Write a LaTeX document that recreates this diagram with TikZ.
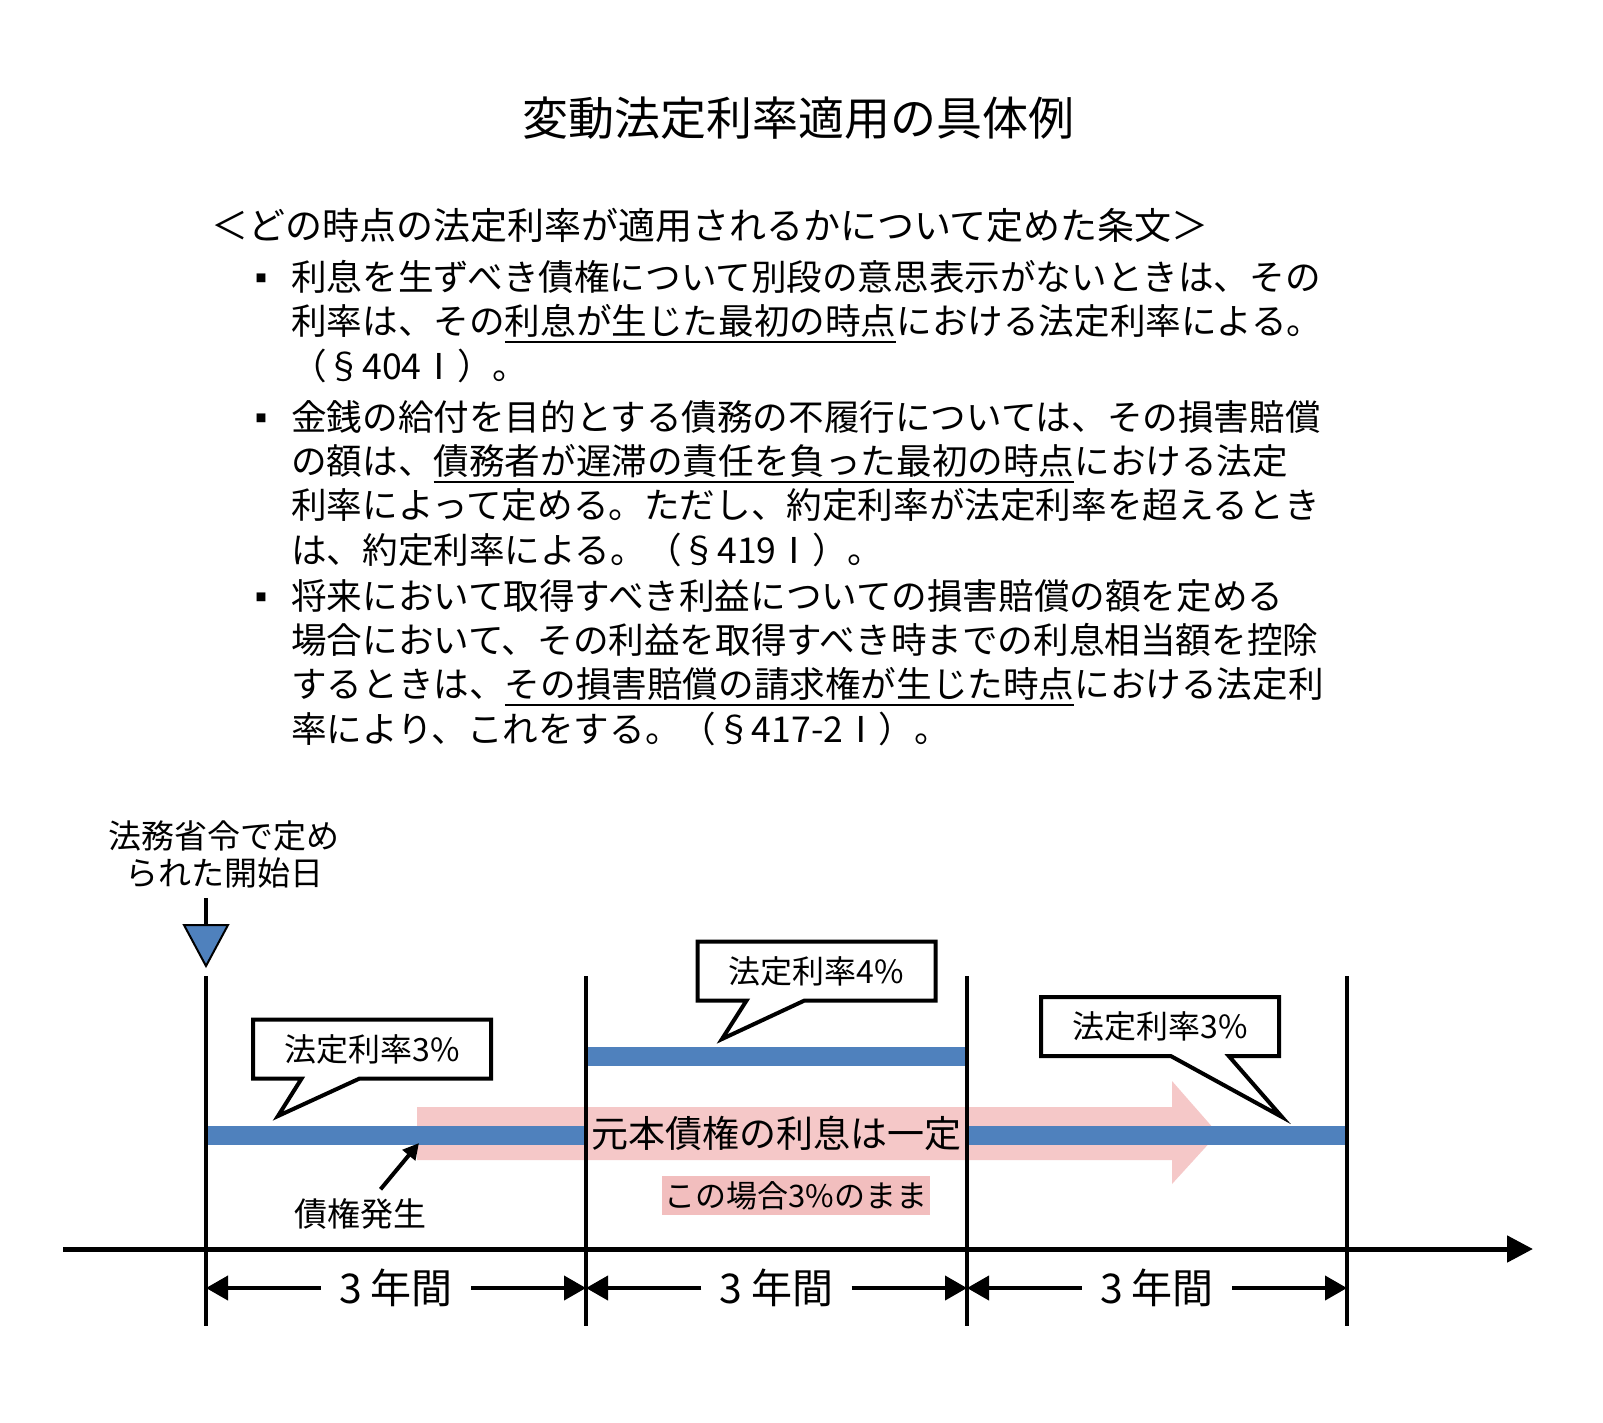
\documentclass[tikz,border=0pt]{standalone}
\usepackage{fontspec}
\setmainfont{Noto Sans CJK JP}
\usetikzlibrary{arrows.meta,positioning,shapes.callouts}
\newcommand{\pxfont}[2]{\fontsize{#1}{#2}\selectfont}
\newsavebox{\undlbox}
\newcommand{\undl}[1]{\sbox{\undlbox}{#1}\rlap{\rule[-8.5pt]{\wd\undlbox}{2.5pt}}\usebox{\undlbox}}
\definecolor{lr-ink}{HTML}{000000}
\definecolor{lr-blue}{HTML}{4F81BD}
\definecolor{lr-pink}{HTML}{F5C8C8}
\definecolor{lr-rose}{HTML}{F2BEBE}

\begin{document}
\begin{tikzpicture}[x=1pt,y=-1pt,
  ratebox/.style={rectangle callout,draw=lr-ink,fill=white,line width=4pt,
    minimum width=238pt,minimum height=59pt,inner sep=0pt,
    callout pointer width=58pt,font=\pxfont{32}{36}},
  vline/.style={lr-ink,line width=4.5pt},
  rateline/.style={lr-blue,line width=19pt},
  spanarrow/.style={lr-ink,line width=4pt,-{Triangle[length=22pt,width=24pt]}},
  yearlabel/.style={font=\pxfont{41}{44},inner xsep=18pt,inner ysep=0pt},
  clause/.style={anchor=north west,align=left,inner sep=0pt,font=\pxfont{35.6}{44.3}},
  bulletmark/.style={font=\pxfont{11}{12},inner sep=0pt}]

\useasboundingbox[fill=white] (0,0) rectangle (1603,1422);

% ============ heading and the three articles ============
\node[font=\pxfont{46}{50}] (title) at (798,118) {変動法定利率適用の具体例};
\node[font=\pxfont{37}{40}] (clauses) at (710,225)
     {＜どの時点の法定利率が適用されるかについて定めた条文＞};

\node[bulletmark] (dot404) at (261,278) {■};
\node[clause] (art404) at (291,260)
     {利息を生ずべき債権について別段の意思表示がないときは、その\\
      利率は、その\undl{利息が生じた最初の時点}における法定利率による。\\
      （§404Ⅰ）。};

\node[bulletmark] (dot419) at (261,418) {■};
\node[clause] (art419) at (291,400)
     {金銭の給付を目的とする債務の不履行については、その損害賠償\\
      の額は、\undl{債務者が遅滞の責任を負った最初の時点}における法定\\
      利率によって定める。ただし、約定利率が法定利率を超えるとき\\
      は、約定利率による。（§419Ⅰ）。};

\node[bulletmark] (dot417) at (261,597) {■};
\node[clause] (art417) at (291,579)
     {将来において取得すべき利益についての損害賠償の額を定める\\
      場合において、その利益を取得すべき時までの利息相当額を控除\\
      するときは、\undl{その損害賠償の請求権が生じた時点}における法定利\\
      率により、これをする。（§417-2Ⅰ）。};

% ============ timeline ============
\node[align=center,font=\pxfont{33}{37},inner sep=0pt] (startday) at (224,854)
     {法務省令で定め\\られた開始日};
\draw[vline] (206,898) -- (206,925);
\filldraw[fill=lr-blue,draw=lr-ink,line width=2pt] (184,925) -- (228,925) -- (206,966) -- cycle;

% interest stays fixed
\fill[lr-pink] (417,1107) -- (1172,1107) -- (1172,1081) -- (1218,1133.5)
     -- (1172,1184) -- (1172,1160) -- (417,1160) -- cycle;

% legal rate per period
\draw[rateline] (206,1135) -- (1347,1135);
\draw[rateline] (586,1056) -- (967,1056);

\node[fill=lr-pink,minimum width=379pt,minimum height=50pt,inner sep=0pt,
      font=\pxfont{37}{40}] (fixedrate) at (776.5,1133) {元本債権の利息は一定};
\node[fill=lr-rose,minimum width=268pt,minimum height=39pt,inner sep=0pt,
      font=\pxfont{31}{34}] (stays) at (796,1195.5) {この場合3\%のまま};

\draw[vline] (206,976) -- (206,1326);
\draw[vline] (586,976) -- (586,1326);
\draw[vline] (967,976) -- (967,1326);
\draw[vline] (1347,976) -- (1347,1326);

\draw[lr-ink,line width=5pt,-{Triangle[length=26pt,width=26pt]}] (63,1249) -- (1533,1249);

\node[ratebox,callout absolute pointer={(278,1116)}] (rate1) at (372,1049) {法定利率3\%};
\node[ratebox,callout absolute pointer={(722,1039)}] (rate2) at (816.5,971) {法定利率4\%};
\node[ratebox,callout absolute pointer={(1282,1117)}] (rate3) at (1160,1026.5) {法定利率3\%};

% claim arises
\node[font=\pxfont{33}{36},inner sep=3pt] (birth) at (360,1214) {債権発生};
\coordinate (born) at (419,1143);
\draw[lr-ink,line width=4pt,shorten <=8pt,-{Triangle[length=16pt,width=16pt]}] (birth) -- (born);

% three-year spans
\coordinate (s0) at (206,1288);
\coordinate (s1) at (586,1288);
\coordinate (s2) at (967,1288);
\coordinate (s3) at (1347,1288);
\node[yearlabel] (yr1) at (396,1288) {3 年間};
\node[yearlabel] (yr2) at (776.5,1288) {3 年間};
\node[yearlabel] (yr3) at (1157,1288) {3 年間};
\draw[spanarrow] (yr1) -- (s0);
\draw[spanarrow] (yr1) -- (s1);
\draw[spanarrow] (yr2) -- (s1);
\draw[spanarrow] (yr2) -- (s2);
\draw[spanarrow] (yr3) -- (s2);
\draw[spanarrow] (yr3) -- (s3);

\end{tikzpicture}
\end{document}
